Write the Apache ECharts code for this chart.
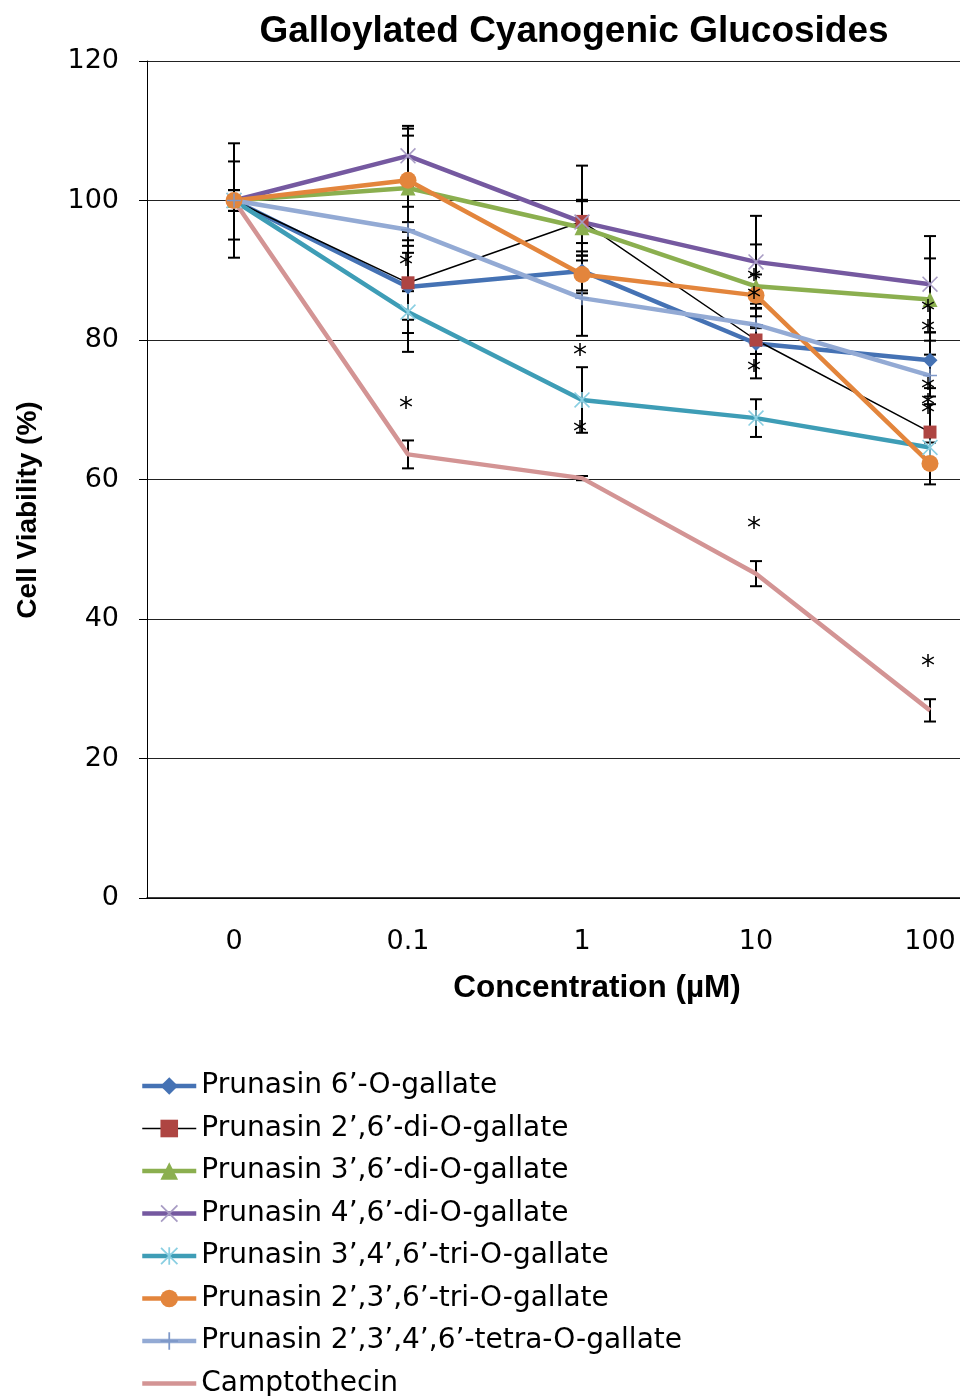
<!DOCTYPE html>
<html>
<head>
<meta charset="utf-8">
<script src="https://cdn.jsdelivr.net/npm/echarts@6/dist/echarts.min.js"></script>
<style>
html, body { margin: 0; padding: 0; background: #fff; }
#chart_div { width: 960px; height: 1396px; }
</style>
</head>
<body>
<div id="chart_div"></div>
<script>
// ----------- 数据 -----------
// 浓度 (µM)
var category_list = ['0', '0.1', '1', '10', '100']
// y 轴刻度
var y_min = 0
var y_max = 120
var y_interval = 20

var name_list = [
    'Prunasin 6’-O-gallate',
    'Prunasin 2’,6’-di-O-gallate',
    'Prunasin 3’,6’-di-O-gallate',
    'Prunasin 4’,6’-di-O-gallate',
    'Prunasin 3’,4’,6’-tri-O-gallate',
    'Prunasin 2’,3’,6’-tri-O-gallate',
    'Prunasin 2’,3’,4’,6’-tetra-O-gallate',
    'Camptothecin'
]

// 细胞活力 (%)
var value_6 = [100, 87.6, 89.9, 79.5, 77.1]
var value_2_6 = [100, 88.2, 97.0, 80.0, 66.8]
var value_3_6 = [100, 101.8, 96.1, 87.7, 85.8]
var value_4_6 = [100, 106.4, 96.9, 91.2, 88.0]
var value_3_4_6 = [100, 84.0, 71.4, 68.8, 64.6]
var value_2_3_6 = [100, 102.9, 89.4, 86.4, 62.3]
var value_2_3_4_6 = [100, 95.8, 86.0, 82.2, 74.9]
var value_campto = [100, 63.6, 60.2, 46.5, 26.9]

// 误差 (±)
var err_6 = [8.2, 9.3, 2.8, 5.0, 4.0]
var err_2_6 = [5.6, 5.3, 8.0, 2.0, 4.0]
var err_3_6 = [1.5, 7.5, 4.0, 6.0, 5.9]
var err_4_6 = [1.5, 4.3, 3.0, 6.6, 6.9]
var err_3_4_6 = [1.5, 3.0, 4.7, 2.7, 2.0]
var err_2_3_6 = [1.5, 7.4, 2.7, 3.0, 3.0]
var err_2_3_4_6 = [1.5, 3.3, 5.4, 3.0, 3.0]
var err_campto = [1.5, 2.0, 0.3, 1.8, 1.6]

// 显著性标记 * [浓度序号, 位置]
var star_list = [
    [1, 91.2], [1, 70.7],
    [2, 78.3], [2, 67.3],
    [3, 89.1], [3, 86.5], [3, 76.0], [3, 53.5],
    [4, 84.6], [4, 81.7], [4, 73.5], [4, 71.1], [4, 70.0], [4, 33.8]
]

var value_list = [value_6, value_2_6, value_3_6, value_4_6, value_3_4_6, value_2_3_6, value_2_3_4_6, value_campto]
var err_list = [err_6, err_2_6, err_3_6, err_4_6, err_3_4_6, err_2_3_6, err_2_3_4_6, err_campto]

// ----------- 样式 -----------
var path_x = 'path://M0,0.7L0.7,0L10,9.3L9.3,10Z M9.3,0L10,0.7L0.7,10L0,9.3Z'
var path_star = 'path://M0,0.7L0.7,0L10,9.3L9.3,10Z M9.3,0L10,0.7L0.7,10L0,9.3Z M4.5,0L5.5,0L5.5,10L4.5,10Z'
var path_plus = 'path://M4.5,0L5.5,0L5.5,10L4.5,10Z M0,4.5L10,4.5L10,5.5L0,5.5Z'

var line_color_list = ['#4572B4', '#000000', '#8BAF4F', '#7559A0', '#3E9DB6', '#E3853C', '#93AAD4', '#D39494']
var marker_color_list = ['#4572B4', '#AE4542', '#8BAF4F', '#A89CC4', '#8ACFE2', '#E3853C', '#7F99C9', '#D39494']
var marker_list = ['diamond', 'rect', 'triangle', path_x, path_star, 'circle', path_plus, 'none']
var marker_size_list = [15, 13, 15, 16, 16, 17, 14, 0]
var line_width_list = [4.5, 1.5, 4.5, 4.5, 4.5, 4.5, 4.5, 4.5]

var font_regular = '"DejaVu Sans", sans-serif'
var font_bold = '"Liberation Sans", Arial, sans-serif'

// ----------- 系列 -----------
var series_list = []
var legend_data = []
name_list.forEach(function (each_name, i) {
    series_list.push({
        name: each_name,
        type: 'line',
        data: value_list[i],
        symbol: marker_list[i],
        symbolSize: marker_size_list[i],
        showSymbol: marker_list[i] != 'none',
        lineStyle: { color: line_color_list[i], width: line_width_list[i] },
        itemStyle: { color: marker_color_list[i] },
        z: 2
    })
    var each_legend = {
        name: each_name,
        lineStyle: { width: line_width_list[i] }
    }
    // 无标记的系列, 图例只画线
    if (marker_list[i] == 'none') {
        each_legend.itemStyle = { opacity: 0 }
    }
    legend_data.push(each_legend)
})

// 误差线
var err_data = []
value_list.forEach(function (each_values, i) {
    each_values.forEach(function (v, j) {
        err_data.push([j, v - err_list[i][j], v + err_list[i][j]])
    })
})
series_list.push({
    type: 'custom',
    name: 'err',
    data: err_data,
    encode: { x: 0, y: [1, 2] },
    z: 1,
    renderItem: function (params, api) {
        var top = api.coord([api.value(0), api.value(2)])
        var bottom = api.coord([api.value(0), api.value(1)])
        var half = 6
        var style = { stroke: '#000', lineWidth: 2 }
        return {
            type: 'group',
            children: [
                { type: 'line', shape: { x1: top[0], y1: top[1], x2: bottom[0], y2: bottom[1] }, style: style },
                { type: 'line', shape: { x1: top[0] - half, y1: top[1], x2: top[0] + half, y2: top[1] }, style: style },
                { type: 'line', shape: { x1: bottom[0] - half, y1: bottom[1], x2: bottom[0] + half, y2: bottom[1] }, style: style }
            ]
        }
    }
})

// * 标记
series_list.push({
    type: 'custom',
    name: 'star',
    data: star_list,
    encode: { x: 0, y: 1 },
    z: 3,
    renderItem: function (params, api) {
        var pos = api.coord([api.value(0), api.value(1)])
        return {
            type: 'text',
            x: pos[0] - 2,
            y: pos[1] + 5,
            style: {
                text: '*',
                fill: '#000',
                font: '28px ' + font_regular,
                align: 'center',
                verticalAlign: 'middle'
            }
        }
    }
})

var option = {
    animation: false,
    backgroundColor: '#fff',
    title: {
        text: 'Galloylated Cyanogenic Glucosides',
        left: 569,
        top: 8,
        textAlign: 'center',
        textStyle: { fontFamily: font_bold, fontWeight: 'bold', fontSize: 37, color: '#000' }
    },
    grid: {
        left: 147,
        top: 61,
        width: 870,
        height: 837,
        containLabel: false,
        outerBoundsMode: 'none'
    },
    xAxis: {
        type: 'category',
        data: category_list,
        boundaryGap: true,
        axisLine: { lineStyle: { color: '#000', width: 1.5 } },
        axisTick: { alignWithLabel: true, length: 8, lineStyle: { color: '#000', width: 1 } },
        axisLabel: { margin: 30, fontFamily: font_regular, fontSize: 27, color: '#000' },
        splitLine: { show: false }
    },
    yAxis: {
        type: 'value',
        min: y_min,
        max: y_max,
        interval: y_interval,
        axisLine: { show: true, lineStyle: { color: '#000', width: 1 } },
        axisTick: { show: true, length: 8, lineStyle: { color: '#000' } },
        axisLabel: { margin: 28, fontFamily: font_regular, fontSize: 27, color: '#000' },
        splitLine: { show: true, lineStyle: { color: '#222', width: 1 } }
    },
    legend: {
        data: legend_data,
        orient: 'vertical',
        left: 140,
        top: 1071,
        height: 360,
        padding: 0,
        itemWidth: 54,
        itemHeight: 22,
        itemGap: 12.5,
        textStyle: { fontFamily: font_regular, fontSize: 28, lineHeight: 30, color: '#000' }
    },
    graphic: [
        {
            type: 'text',
            x: 28,
            y: 510,
            rotation: Math.PI / 2,
            style: {
                text: 'Cell Viability (%)',
                font: 'bold 28px ' + font_bold,
                fill: '#000',
                align: 'center',
                verticalAlign: 'middle'
            }
        },
        {
            type: 'text',
            x: 597,
            y: 988,
            style: {
                text: 'Concentration (µM)',
                font: 'bold 31.5px ' + font_bold,
                fill: '#000',
                align: 'center',
                verticalAlign: 'middle'
            }
        }
    ],
    series: series_list
}

var chart_div = echarts.init(document.getElementById('chart_div'))
chart_div.setOption(option)
</script>
</body>
</html>
